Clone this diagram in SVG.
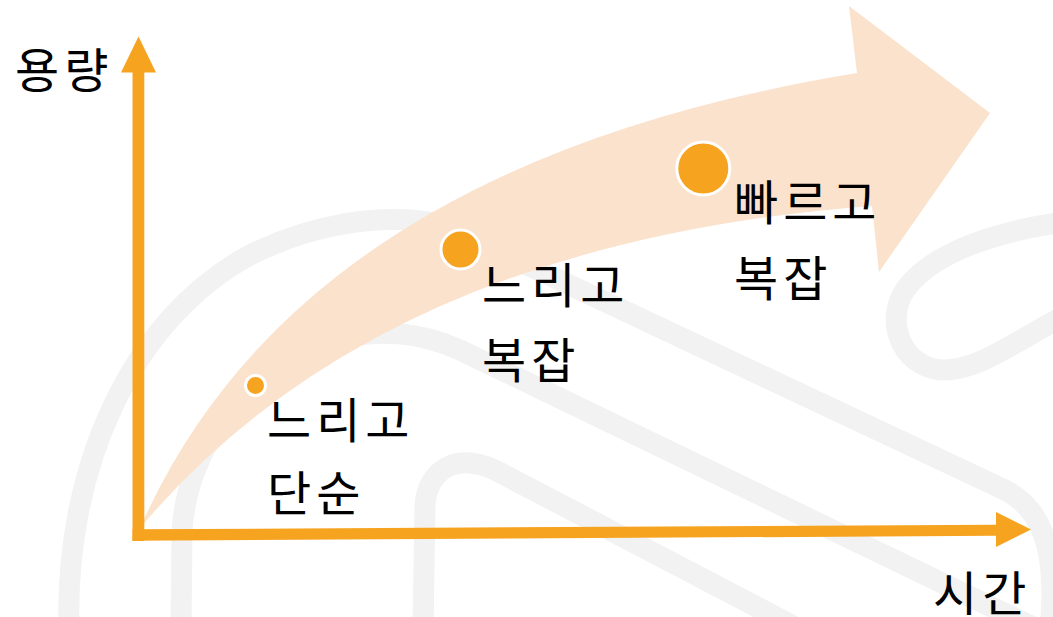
<svg xmlns="http://www.w3.org/2000/svg" width="1053" height="617" viewBox="0 0 1053 617">
<style>
.wm{fill:none;stroke:#F2F2F2;stroke-width:21;stroke-linecap:round;stroke-linejoin:round}
.ax{fill:#F6A31F}
.dot{fill:#F6A31F;stroke:#FFFFFF;stroke-width:3}
.lbl{font-family:"Noto Sans CJK KR","Noto Sans",sans-serif;font-size:48px;letter-spacing:5px;fill:#000000}
</style>
<rect width="1053" height="617" fill="#FFFFFF"/>
<g id="watermark">
<path class="wm" d="M69 630 C64 470 130 320 250 255 C310 225 380 212 440 224 L1005 490 C1040 508 1058 545 1050 630"/>
<path class="wm" d="M181 630 L182 533 C185 450 250 360 330 340 C380 328 420 332 460 350 L1060 640"/>
<path class="wm" d="M423 630 L425 505 C428 470 455 452 495 470 L820 640"/>
<path class="wm" d="M1065 222 C990 232 930 255 905 290 C885 320 900 365 940 370 C975 372 1010 345 1065 315"/>
</g>
<g id="growth-arrow">
<path fill="#FBE2CD" d="M140 528 Q300 164 857 73 L849 6 L990 113 L879 272 L872 206 Q380 243 140 528 Z"/>
</g>
<g id="connectors">
<rect class="ax" x="132.5" y="71" width="11.8" height="470"/>
<polygon class="ax" points="121,72.5 138.5,36.5 156,72.5"/>
<polygon class="ax" points="132.5,529.3 996,524.8 996,535.8 132.5,540.7"/>
<polygon class="ax" points="996,512 1031,529.5 996,547"/>
</g>
<g id="axis-y-label"><text class="lbl" x="15" y="88">용량</text></g>
<g id="axis-x-label"><text class="lbl" x="933" y="611">시간</text></g>
<g id="node-slow-simple">
<circle class="dot" cx="255.5" cy="385.5" r="10"/>
<text class="lbl" x="267" y="438">느리고</text>
<text class="lbl" x="267" y="511">단순</text>
</g>
<g id="node-slow-complex">
<circle class="dot" cx="460.5" cy="249.5" r="19.5"/>
<text class="lbl" x="482" y="303">느리고</text>
<text class="lbl" x="482" y="378">복잡</text>
</g>
<g id="node-fast-complex">
<circle class="dot" cx="703.3" cy="168.5" r="26.5"/>
<text class="lbl" x="734" y="220">빠르고</text>
<text class="lbl" x="734" y="296">복잡</text>
</g>
</svg>
